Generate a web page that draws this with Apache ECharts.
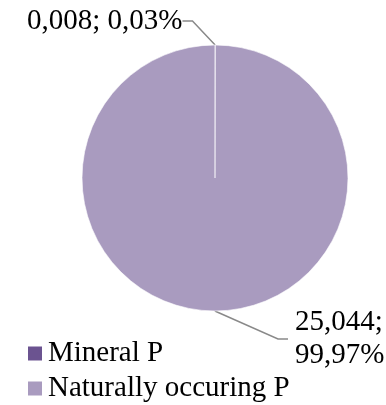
<!DOCTYPE html>
<html><head><meta charset="utf-8">
<script src="https://cdn.jsdelivr.net/npm/echarts@6/dist/echarts.min.js"></script>
<style>html,body{margin:0;padding:0;background:#fff}#c{width:386px;height:405px}</style>
</head><body><div id="c"></div>
<script>
const categories = ["Mineral P", "Naturally occuring P"];
const values = [0.008, 25.044];
const percentLabels = ["0,03%", "99,97%"];
const valueLabels = ["0,008", "25,044"];
const colors = ["#6B5390", "#A99BBF"];

const chart = echarts.init(document.getElementById('c'), null, {renderer: 'canvas'});
const font = "Liberation Serif";
chart.setOption({
  animation: false,
  color: colors,
  legend: {
    orient: 'vertical', left: 26, top: 336, width: 340, height: 100, padding: 0, icon: 'rect', itemWidth: 16, itemHeight: 16, itemGap: 0,
    textStyle: {fontFamily: font, fontSize: 29, lineHeight: 35, color: '#000'},
    data: categories
  },
  series: [{
    type: 'pie',
    center: [215, 178], radius: [0, 133],
    startAngle: 90, clockwise: true,
    itemStyle: {borderColor: '#fff', borderWidth: 0.6},
    label: {
      show: true, fontFamily: font, fontSize: 29, color: '#000', lineHeight: 33, overflow: 'none', padding: [0, 7],
      formatter: p => p.dataIndex === 0 ? valueLabels[0] + '; ' + percentLabels[0] : valueLabels[1] + ';\n' + percentLabels[1]
    },
    labelLine: {show: true, lineStyle: {color: '#898989', width: 1.5}, length: 10, length2: 10},
    labelLayout: p => p.dataIndex === 0
      ? {x: 20, y: 21, align: 'left', verticalAlign: 'middle'}
      : {x: 288, y: 339, align: 'left', verticalAlign: 'middle'},
    data: categories.map((c, i) => ({name: c, value: values[i]}))
  }]
});
</script></body></html>
